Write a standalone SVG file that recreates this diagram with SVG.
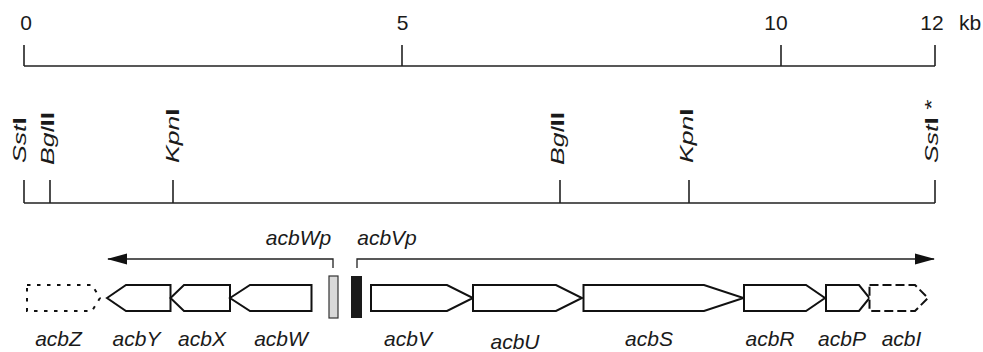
<svg xmlns="http://www.w3.org/2000/svg" width="983" height="352" viewBox="0 0 983 352">
  <style>
    .num { font-family: "Liberation Sans", Arial, sans-serif; font-size: 21px; fill: #1a1a1a; text-anchor: middle; }
    .lbl { font-family: "Liberation Sans", Arial, sans-serif; font-size: 21px; font-style: italic; fill: #1a1a1a; text-anchor: middle; }
    .site { font-family: "Liberation Sans", Arial, sans-serif; font-size: 19px; fill: #1a1a1a; }
    .site .it { font-style: italic; }
    .site .bd { font-weight: bold; }
    .axis { stroke: #222; stroke-width: 1.6; fill: none; }
    .gene { stroke: #111; stroke-width: 2; fill: #fff; stroke-linejoin: miter; }
    .dot { stroke-dasharray: 3.5 6.5; }
    .dash { stroke-dasharray: 9 4; }
    .tx { stroke: #222; stroke-width: 1.3; fill: none; }
  </style>
  <defs>
    <marker id="head" markerUnits="userSpaceOnUse" markerWidth="20" markerHeight="12" refX="19" refY="6" orient="auto">
      <path d="M0,0.5 L20,6 L0,11.5 z" fill="#111"/>
    </marker>
  </defs>
  <rect width="983" height="352" fill="#fff"/>

  <!-- kilobase scale -->
  <g id="scale">
    <path class="axis" d="M24,66 H935 M24,45 V66 M402,45 V66 M781,45 V66 M935,45 V66"/>
    <text class="num" x="26" y="30">0</text>
    <text class="num" x="402.5" y="30">5</text>
    <text class="num" x="776" y="30">10</text>
    <text class="num" x="932" y="30">12</text>
    <text class="num" x="959" y="30" style="text-anchor:start">kb</text>
  </g>

  <!-- restriction map -->
  <g id="restriction-map">
    <path class="axis" d="M24,203 H935 M24,180 V203 M50,180 V203 M173,180 V203 M560,180 V203 M689,180 V203 M935,180 V203"/>
  </g>
  <g id="site-SstI-left">
    <text class="site" transform="translate(26,163) rotate(-90) scale(1.4,1)"><tspan class="it">Sst</tspan><tspan class="bd">I</tspan></text>
  </g>
  <g id="site-BglII-left">
    <text class="site" transform="translate(54,165) rotate(-90) scale(1.4,1)"><tspan class="it">Bgl</tspan><tspan class="bd">II</tspan></text>
  </g>
  <g id="site-KpnI-left">
    <text class="site" transform="translate(179,163) rotate(-90) scale(1.4,1)"><tspan class="it">Kpn</tspan><tspan class="bd">I</tspan></text>
  </g>
  <g id="site-BglII-right">
    <text class="site" transform="translate(564,165) rotate(-90) scale(1.4,1)"><tspan class="it">Bgl</tspan><tspan class="bd">II</tspan></text>
  </g>
  <g id="site-KpnI-right">
    <text class="site" transform="translate(693,163) rotate(-90) scale(1.4,1)"><tspan class="it">Kpn</tspan><tspan class="bd">I</tspan></text>
  </g>
  <g id="site-SstI-right">
    <text class="site" transform="translate(938,163) rotate(-90) scale(1.4,1)"><tspan class="it">Sst</tspan><tspan class="bd">I</tspan> *</text>
  </g>

  <!-- transcripts from the two promoters -->
  <g id="connectors">
    <path class="tx" d="M333,268 V259 H108" marker-end="url(#head)"/>
    <path class="tx" d="M357,268 V259 H934" marker-end="url(#head)"/>
  </g>

  <!-- promoters -->
  <g id="acbWp">
    <rect x="329" y="276" width="9" height="42" fill="#d9d9d9" stroke="#333" stroke-width="1.2"/>
    <text class="lbl" x="298.5" y="245">acbWp</text>
  </g>
  <g id="acbVp">
    <rect x="351" y="276" width="11" height="42" fill="#1a1a1a"/>
    <text class="lbl" x="387" y="245">acbVp</text>
  </g>

  <!-- genes -->
  <g id="acbZ">
    <path class="gene dot" d="M27,285 H92 L100,298 L92,311 H27 Z"/>
    <text class="lbl" x="58.5" y="346">acbZ</text>
  </g>
  <g id="acbY">
    <path class="gene" d="M107,298 L126,285 H170.5 V311 H126 Z"/>
    <text class="lbl" x="136.5" y="346">acbY</text>
  </g>
  <g id="acbX">
    <path class="gene" d="M170.5,298 L184,285 H230 V311 H184 Z"/>
    <text class="lbl" x="202" y="346">acbX</text>
  </g>
  <g id="acbW">
    <path class="gene" d="M230,298 L250,285 H311.5 V311 H250 Z"/>
    <text class="lbl" x="281" y="346">acbW</text>
  </g>
  <g id="acbV">
    <path class="gene" d="M371,285 H447 L473,298 L447,311 H371 Z"/>
    <text class="lbl" x="408" y="346">acbV</text>
  </g>
  <g id="acbU">
    <path class="gene" d="M473,285 H556 L582,298 L556,311 H473 Z"/>
    <text class="lbl" x="515" y="349">acbU</text>
  </g>
  <g id="acbS">
    <path class="gene" d="M583.5,285 H704 L743.5,298 L704,311 H583.5 Z"/>
    <text class="lbl" x="649" y="346">acbS</text>
  </g>
  <g id="acbR">
    <path class="gene" d="M744,285 H806 L825,298 L806,311 H744 Z"/>
    <text class="lbl" x="770" y="346">acbR</text>
  </g>
  <g id="acbP">
    <path class="gene" d="M826,285 H859 L869.5,298 L859,311 H826 Z"/>
    <text class="lbl" x="842" y="346">acbP</text>
  </g>
  <g id="acbI">
    <path class="gene dash" d="M869.5,285 H915 L928,298 L915,311 H869.5 Z"/>
    <text class="lbl" x="901.5" y="346">acbI</text>
  </g>
</svg>
